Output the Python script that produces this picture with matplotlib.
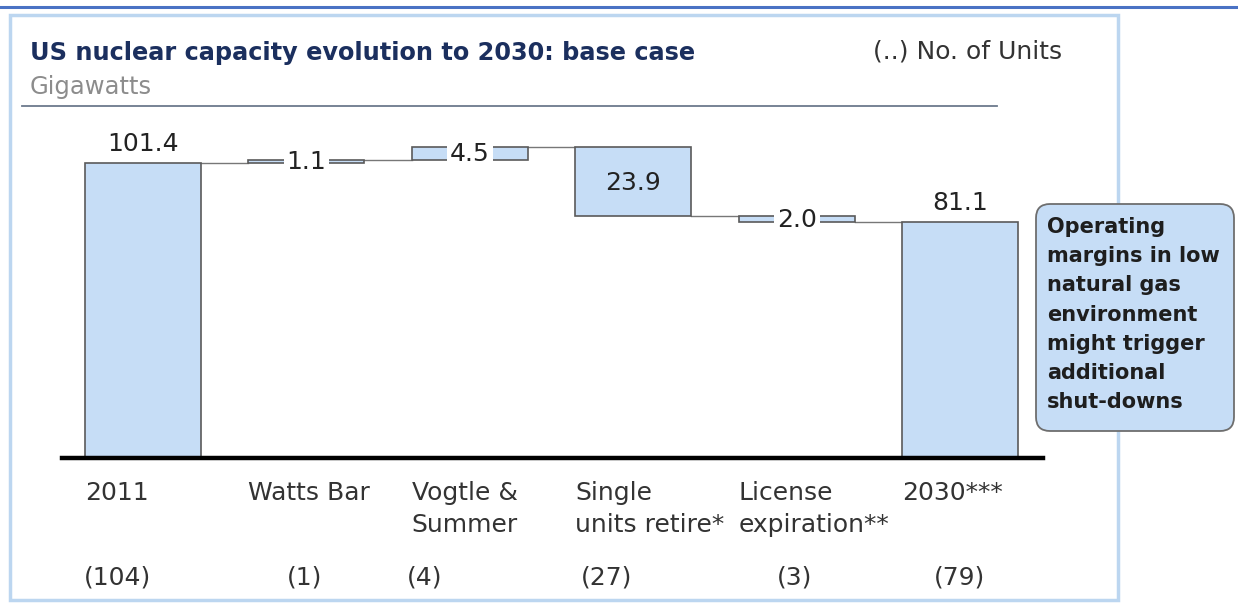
import matplotlib
matplotlib.use("Agg")
import matplotlib.pyplot as plt
from matplotlib.patches import Rectangle, FancyBboxPatch
from matplotlib.lines import Line2D
import numpy as np

plt.rcParams['font.family'] = ['DejaVu Sans']

# ---- data ----
categories = ["2011", "Watts Bar", "Vogtle &\nSummer", "Single\nunits retire*", "License\nexpiration**", "2030***"]
values = [101.4, 1.1, 4.5, -23.9, -2.0, 81.1]
is_total = [True, False, False, False, False, True]
unit_counts = ["(104)", "(1)", "(4)", "(27)", "(3)", "(79)"]
value_labels = ["101.4", "1.1", "4.5", "23.9", "2.0", "81.1"]
callout_lines = ["Operating", "margins in low", "natural gas", "environment",
                 "might trigger", "additional", "shut-downs"]

W, H = 1238, 606
fig = plt.figure(figsize=(W / 100, H / 100), dpi=100)
fig.patch.set_facecolor("white")

def fx(x):
    return x / W

def fy(y):
    return 1 - y / H

# decoration overlay (pixel coords)
deco = fig.add_axes([0, 0, 1, 1])
deco.set_xlim(0, W)
deco.set_ylim(H, 0)
deco.axis("off")
deco.add_line(Line2D([0, W], [7, 7], color="#4A72C4", lw=2.2))
deco.add_patch(Rectangle((10, 15), 1108, 585, fill=False, ec="#BCD6F0", lw=2.5))
deco.add_line(Line2D([22, 997], [106, 106], color="#6C7A8C", lw=1.3))

fig.text(fx(30), fy(53), "US nuclear capacity evolution to 2030: base case",
         fontsize=17.3, fontweight="bold", color="#1B2F5E", va="center", ha="left")
fig.text(fx(30), fy(87), "Gigawatts", fontsize=17.5, color="#8C8C8C", va="center", ha="left")
fig.text(fx(1062), fy(51), "(..) No. of Units", fontsize=18, color="#333333", va="center", ha="right")

# ---- main waterfall axes ----
base_px, top_px = 458, 120
px_per_unit = 2.91
ymax = (base_px - top_px) / px_per_unit
x_left_px, x_right_px = 62, 1043
c0, step = 143, 163.4
xmin = (x_left_px - c0) / step
xmax = (x_right_px - c0) / step
ax = fig.add_axes([fx(x_left_px), (H - base_px) / H,
                   (x_right_px - x_left_px) / W, (base_px - top_px) / H])
ax.set_xlim(xmin, xmax)
ax.set_ylim(0, ymax)
ax.axis("off")

bar_w = 0.71
bar_color = "#C6DDF6"
edge = "#5A5A5A"

bottoms, heights, tops = [], [], []
running = 0.0
for v, tot in zip(values, is_total):
    if tot:
        bottoms.append(0.0)
        heights.append(v)
        running = v
    else:
        new = running + v
        bottoms.append(min(running, new))
        heights.append(abs(v))
        running = new
    tops.append(running)

xs = np.arange(len(values))
ax.bar(xs, heights, bottom=bottoms, width=bar_w, color=bar_color,
       edgecolor=edge, linewidth=1.2, zorder=2)

# connectors
for i in range(len(values) - 1):
    lvl = tops[i]
    ax.plot([xs[i] + bar_w / 2, xs[i + 1] - bar_w / 2], [lvl, lvl],
            color="#777777", lw=1.0, zorder=1)

# baseline
ax.axhline(0, color="black", lw=3.2, zorder=3, clip_on=False)

# value labels
for i, (lab, tot) in enumerate(zip(value_labels, is_total)):
    if tot:
        ax.text(xs[i], bottoms[i] + heights[i] + 2.5, lab, ha="center", va="bottom",
                fontsize=18, color="#222222", zorder=4)
    elif abs(values[i]) > 10:
        ax.text(xs[i], bottoms[i] + heights[i] / 2 - 0.5, lab, ha="center", va="center",
                fontsize=18, color="#222222", zorder=4)
    else:
        ax.text(xs[i], bottoms[i] + heights[i] / 2 - 0.3, lab, ha="center", va="center",
                fontsize=18, color="#222222", zorder=4,
                bbox=dict(boxstyle="square,pad=0.12", fc="white", ec="none"))

# category labels (left aligned at bar left edge)
for i, cat in enumerate(categories):
    ax.text(xs[i] - bar_w / 2, -7.8, cat, ha="left", va="top", fontsize=18,
            color="#333333", linespacing=1.45, clip_on=False)

# units
unit_x_px = [117, 305, 425, 607, 795, 959]
for ux, u in zip(unit_x_px, unit_counts):
    fig.text(fx(ux), fy(577), u, ha="center", va="center", fontsize=18, color="#333333")

# callout box
deco.add_patch(FancyBboxPatch((1036, 204), 198, 227,
                              boxstyle="round,pad=0,rounding_size=14",
                              fc="#C6DDF6", ec="#6E6E6E", lw=1.3))
for k, line in enumerate(callout_lines):
    deco.text(1047, 227 + 29.2 * k, line, ha="left", va="center", fontsize=15,
              fontweight="bold", color="#1E1E1E")

fig.savefig("out.png", dpi=100, facecolor="white")
